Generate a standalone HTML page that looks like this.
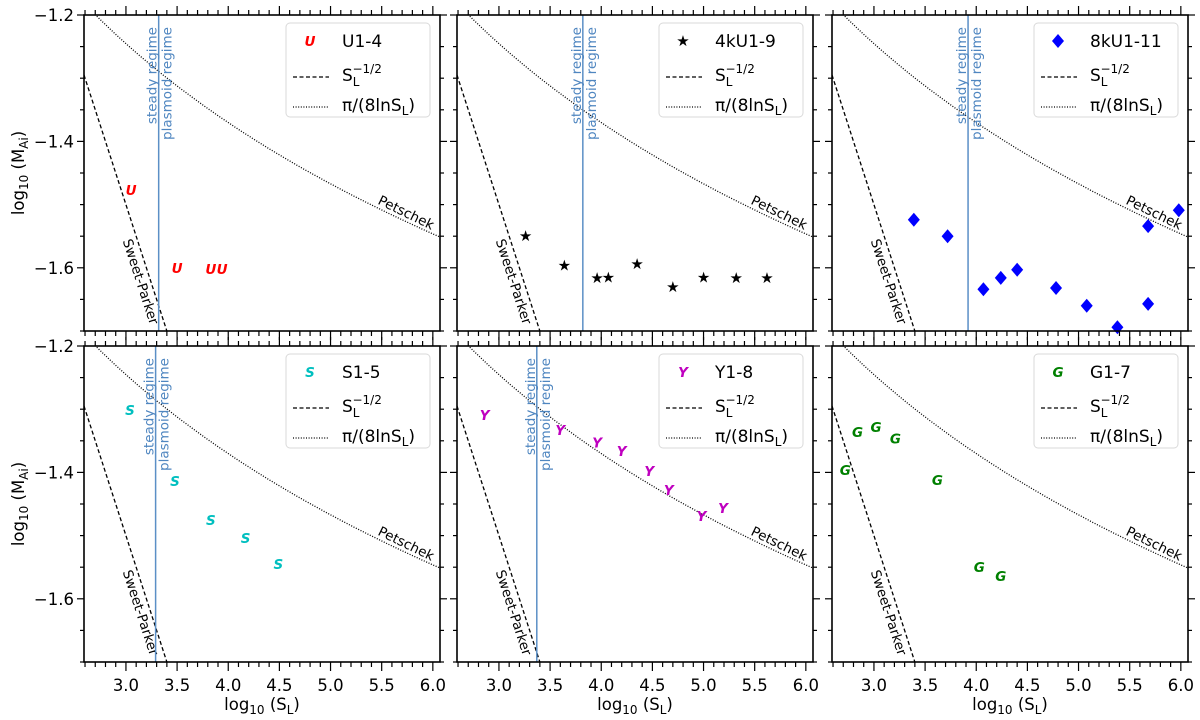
<!DOCTYPE html>
<html><head><meta charset="utf-8"><style>
html,body{margin:0;background:#fff;width:1200px;height:720px;overflow:hidden}
svg{display:block;overflow:hidden;font-family:"DejaVu Sans","Liberation Sans",sans-serif}
</style></head><body>
<svg id="c" width="1200" height="720"></svg>
<script>
const xMin=2.59, xMax=6.07, yMax=-1.2, yMin=-1.7;
const colLeft=[84,457,832], rowTop=[15,346], PW=356, PH=316;
const xTicks=[3.0,3.5,4.0,4.5,5.0,5.5,6.0];
const xTickLabels=["3.0","3.5","4.0","4.5","5.0","5.5","6.0"];
const yTicks=[-1.2,-1.4,-1.6];
const yTickLabels=["\u22121.2","\u22121.4","\u22121.6"];
const panelNames=["U1-4","4kU1-9","8kU1-11","S1-5","Y1-8","G1-7"];
const regimeX=[3.32,3.82,3.92,3.29,3.37,null];
// series values
const u14X=[3.05,3.50,3.83,3.94];
const u14Y=[-1.477,-1.600,-1.602,-1.602];
const k4X=[3.26,3.64,3.96,4.07,4.35,4.70,5.00,5.32,5.62];
const k4Y=[-1.550,-1.596,-1.616,-1.615,-1.594,-1.630,-1.615,-1.616,-1.616];
const k8X=[3.39,3.72,4.07,4.24,4.40,4.78,5.08,5.38,5.68,5.68,5.98];
const k8Y=[-1.524,-1.550,-1.634,-1.616,-1.603,-1.632,-1.660,-1.694,-1.534,-1.657,-1.509];
const s15X=[3.04,3.48,3.83,4.17,4.49];
const s15Y=[-1.301,-1.414,-1.475,-1.504,-1.545];
const y18X=[2.86,3.60,3.96,4.20,4.47,4.66,4.98,5.19];
const y18Y=[-1.309,-1.333,-1.353,-1.366,-1.398,-1.428,-1.469,-1.456];
const g17X=[2.72,2.84,3.02,3.21,3.62,4.03,4.24];
const g17Y=[-1.396,-1.336,-1.328,-1.346,-1.412,-1.550,-1.564];
const seriesX=[u14X,k4X,k8X,s15X,y18X,g17X];
const seriesY=[u14Y,k4Y,k8Y,s15Y,y18Y,g17Y];
const markerKind=["U","star","diamond","S","Y","G"];
const markerColor=["#ff0000","#000000","#0000ff","#00bfbf","#bf00bf","#008000"];

const NS="http://www.w3.org/2000/svg";
const svg=document.getElementById('c');
function mk(tag,attrs,parent,text){const e=document.createElementNS(NS,tag);for(const k in attrs)e.setAttribute(k,attrs[k]);if(text!=null)e.textContent=text;(parent||svg).appendChild(e);return e;}
const pet=x=>Math.log10(Math.PI/(8*x*Math.LN10));

for(let p=0;p<6;p++){
  const r=Math.floor(p/3), c=p%3;
  const L=colLeft[c], T=rowTop[r];
  const sx=v=>L+(v-xMin)/(xMax-xMin)*PW;
  const sy=v=>T+(yMax-v)/(yMax-yMin)*PH;
  const g=mk('g',{});
  
  
  const cid='clip'+p;
  const cp=mk('clipPath',{id:cid},g);mk('rect',{x:L,y:T,width:PW,height:PH},cp);
  const inner=mk('g',{'clip-path':'url(#'+cid+')'},g);
  let d='';for(let i=0;i<=40;i++){const x=xMin+i*(xMax-xMin)/40;d+=(i?'L':'M')+sx(x).toFixed(1)+','+sy(-0.5*x).toFixed(1);}
  const sp=mk('path',{d:d,fill:'none',stroke:'#000','stroke-width':1.3,'stroke-dasharray':'4,2.5'},inner);
  
  d='';for(let i=0;i<=80;i++){const x=xMin+i*(xMax-xMin)/80;d+=(i?'L':'M')+sx(x).toFixed(1)+','+sy(pet(x)).toFixed(1);}
  const pt=mk('path',{d:d,fill:'none',stroke:'#000','stroke-width':1.3,'stroke-dasharray':'1,1.6'},inner);
  
  // Sweet-Parker label: left of the line
  const spy=T+PH-48, spLineX=sx(-2*(yMax-(spy-T)/PH*(yMax-yMin)));
  const spx=spLineX-15;
  const spt=mk('text',{x:spx,y:spy,'font-size':13.5,'text-anchor':'middle',transform:`rotate(72 ${spx} ${spy})`},g,'Sweet-Parker');
  
  const ptx=sx(5.72), pty=sy(pet(5.72))-4;
  const ptt=mk('text',{x:ptx,y:pty,'font-size':13.5,'text-anchor':'middle',transform:`rotate(26 ${ptx} ${pty})`},g,'Petschek');
  
  if(regimeX[p]!=null){
    const rx=sx(regimeX[p]);
    const rl=mk('line',{x1:rx,x2:rx,y1:T,y2:T+PH,stroke:'#5b8fc6','stroke-width':1.5},g);
    
    const t1=mk('text',{x:rx-2,y:T+12,'font-size':13.5,fill:'#4f86c0','text-anchor':'end',transform:`rotate(-90 ${rx-2} ${T+12})`},g,'steady regime');
    
    const t2=mk('text',{x:rx+13,y:T+12,'font-size':13.5,fill:'#4f86c0','text-anchor':'end',transform:`rotate(-90 ${rx+13} ${T+12})`},g,'plasmoid regime');
    
  }
  const X=seriesX[p],Y=seriesY[p],col=markerColor[p],kind=markerKind[p];
  for(let i=0;i<X.length;i++){
    const px=sx(X[i]),py=sy(Y[i]);let m;
    if(kind==='star'){m=mk('text',{x:px,y:py+5,'font-size':15,'text-anchor':'middle',fill:col},g,'\u2605');}
    else if(kind==='diamond'){m=mk('path',{d:`M${px},${py-7}L${px+6},${py}L${px},${py+7}L${px-6},${py}Z`,fill:col},g);}
    else{m=mk('text',{x:px,y:py+5,'font-size':13.5,'font-weight':'bold','font-style':'italic','text-anchor':'middle',fill:col},g,kind);}
    
  }
  const fr=mk('rect',{x:L,y:T,width:PW,height:PH,fill:'none',stroke:'#000','stroke-width':1.6},g);
  
  const tk=mk('g',{stroke:'#000','stroke-width':1.2},g);
  
  for(let v=2.6;v<=xMax+1e-9;v+=0.1){
    const isM=Math.abs(v*2-Math.round(v*2))<1e-6, len=isM?9:5, x=sx(v);
    mk('line',{x1:x,x2:x,y1:T+PH,y2:T+PH+len},tk);mk('line',{x1:x,x2:x,y1:T,y2:T-len},tk);
  }
  for(let v=-1.2;v>=yMin-1e-9;v-=0.05){
    const isM=Math.abs(v*5-Math.round(v*5))<1e-6, len=isM?7:4, y=sy(v);
    mk('line',{x1:L,x2:L-len,y1:y,y2:y},tk);mk('line',{x1:L+PW,x2:L+PW+len,y1:y,y2:y},tk);
  }
  if(r===1){for(let i=0;i<xTicks.length;i++){const t=mk('text',{x:sx(xTicks[i]),y:T+PH+29,'font-size':16.5,'text-anchor':'middle'},g,xTickLabels[i]);}
    const xt=mk('text',{x:L+PW/2,y:710,'font-size':16.5,'text-anchor':'middle'},g);
    xt.innerHTML='log<tspan font-size="12" dy="4">10</tspan><tspan dy="-4"> (S</tspan><tspan font-size="12" dy="4">L</tspan><tspan dy="-4">)</tspan>';
    }
  if(c===0){for(let i=0;i<yTicks.length;i++){const t=mk('text',{x:L-10,y:sy(yTicks[i])+6,'font-size':16.5,'text-anchor':'end'},g,yTickLabels[i]);}
    const cy=T+PH/2, cx=24;
    const yt=mk('text',{x:cx,y:cy,'font-size':16.5,'text-anchor':'middle',transform:`rotate(-90 ${cx} ${cy})`},g);
    yt.innerHTML='log<tspan font-size="12" dy="4">10</tspan><tspan dy="-4"> (M</tspan><tspan font-size="12" dy="4">Ai</tspan><tspan dy="-4">)</tspan>';
    }
  const lg=mk('g',{},g);
  
  const bx=L+PW-154, by=T+8;
  mk('rect',{x:bx,y:by,width:144,height:94,rx:4,fill:'#fff','fill-opacity':0.85,stroke:'#d9d9d9','stroke-width':1},lg);
  const mx=bx+24, tx=bx+56;
  let lm;
  if(kind==='star')lm=mk('text',{x:mx,y:by+23,'font-size':15,'text-anchor':'middle',fill:col},lg,'\u2605');
  else if(kind==='diamond')lm=mk('path',{d:`M${mx},${by+11}L${mx+6},${by+18}L${mx},${by+25}L${mx-6},${by+18}Z`,fill:col},lg);
  else lm=mk('text',{x:mx,y:by+23,'font-size':13.5,'font-weight':'bold','font-style':'italic','text-anchor':'middle',fill:col},lg,kind);
  
  const e1=mk('text',{x:tx,y:by+24,'font-size':17},lg,panelNames[p]);
  
  mk('line',{x1:bx+7,x2:bx+43,y1:by+54,y2:by+54,stroke:'#000','stroke-width':1.3,'stroke-dasharray':'4,2.5'},lg);
  const e2=mk('text',{x:tx,y:by+58,'font-size':17},lg);
  e2.innerHTML='S<tspan font-size="12" dy="5">L</tspan><tspan font-size="12" dx="-7" dy="-13">\u22121/2</tspan>';
  
  mk('line',{x1:bx+7,x2:bx+43,y1:by+84,y2:by+84,stroke:'#000','stroke-width':1.3,'stroke-dasharray':'1,1.6'},lg);
  const e3=mk('text',{x:tx,y:by+88,'font-size':17},lg);
  e3.innerHTML='\u03c0/(8lnS<tspan font-size="12" dy="4">L</tspan><tspan dy="-4">)</tspan>';
  
}
</script>
</body></html>
